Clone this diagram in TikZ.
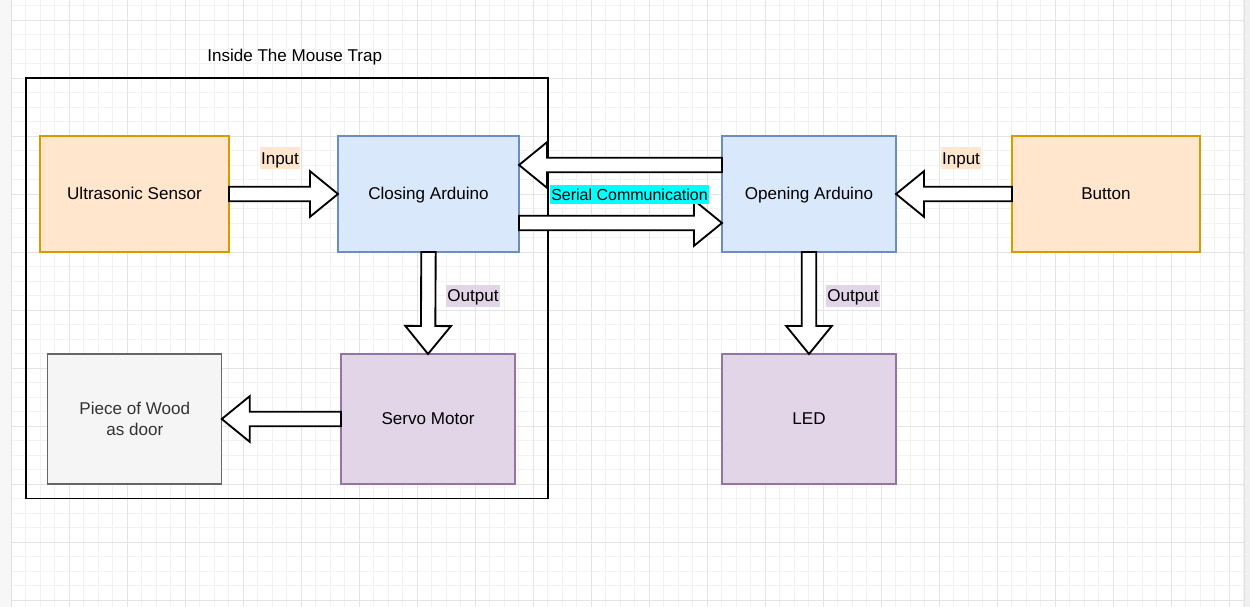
\documentclass[tikz,border=0pt]{standalone}
\usepackage{fontspec}
\setmainfont{Liberation Sans}
\usetikzlibrary{calc}
\definecolor{orfill}{HTML}{FFE6CC}
\definecolor{ordraw}{HTML}{D79B00}
\definecolor{blfill}{HTML}{DAE8FC}
\definecolor{bldraw}{HTML}{6C8EBF}
\definecolor{pufill}{HTML}{E1D5E7}
\definecolor{pudraw}{HTML}{9673A6}
\definecolor{grfill}{HTML}{F5F5F5}
\definecolor{grdraw}{HTML}{666666}
\definecolor{grtext}{HTML}{333333}
\definecolor{cyanlbl}{HTML}{00FFFF}
\definecolor{gridminor}{HTML}{F2F2F2}
\definecolor{gridmajor}{HTML}{E4E4E4}
\definecolor{leftstrip}{HTML}{F7F7F7}
\definecolor{rightstrip}{HTML}{F0F0F0}
\definecolor{stripline}{HTML}{E1E1E1}
\tikzset{
  txt/.style={font=\fontsize{12.8}{16.3}\selectfont},
  oneline/.style={txt, text height=11.6pt, text depth=2.7pt},
  blockbox/.style={draw=#1, line width=0.9pt, inner sep=0pt, outer sep=0pt, align=center},
  lbl/.style={fill=#1, inner xsep=1pt, inner ysep=1.1pt, oneline},
  blockarrow/.style={draw=black, fill=white, line width=1.4pt, line join=miter},
  minorgrid/.style={draw=gridminor, line width=0.75pt},
  majorgrid/.style={draw=gridmajor, line width=0.75pt}
}
\newcommand\blockarr[2]{%
  \coordinate (ba-s) at (#1);
  \coordinate (ba-e) at (#2);
  \coordinate (ba-h) at ($(ba-e)!21pt!(ba-s)$);
  \draw[blockarrow] ($(ba-s)!5.4pt!90:(ba-e)$) -- ($(ba-h)!5.4pt!90:(ba-e)$)
    -- ($(ba-h)!17.1pt!90:(ba-e)$) -- (ba-e) -- ($(ba-h)!17.1pt!-90:(ba-e)$)
    -- ($(ba-h)!5.4pt!-90:(ba-e)$) -- ($(ba-s)!5.4pt!-90:(ba-e)$) -- cycle;
}
\begin{document}
\begin{tikzpicture}[x=0.75pt, y=-0.75pt]
\useasboundingbox (0,0) rectangle (1250,607);
% canvas
\fill[white] (0,0) rectangle (1250,607);
\fill[leftstrip] (0,0) rectangle (11.3,607);
\fill[rightstrip] (1244,0) rectangle (1250,607);
\foreach \k in {0,...,85} {
  \pgfmathsetmacro\gx{11.3+14.5*\k}
  \draw[minorgrid] (\gx,0) -- (\gx,607);
}
\foreach \k in {-1,...,40} {
  \pgfmathsetmacro\gy{20+14.5*\k}
  \draw[minorgrid] (11.3,\gy) -- (1244,\gy);
}
\foreach \k in {0,4,...,84} {
  \pgfmathsetmacro\gx{11.3+14.5*\k}
  \draw[majorgrid] (\gx,0) -- (\gx,607);
}
\foreach \k in {0,4,...,40} {
  \pgfmathsetmacro\gy{20+14.5*\k}
  \draw[majorgrid] (11.3,\gy) -- (1244,\gy);
}
\draw[stripline, line width=0.75pt] (11.3,0) -- (11.3,607);
\draw[stripline, line width=0.75pt] (1244,0) -- (1244,607);

% container
\node[draw=black, line width=1.1pt, minimum width=391.5pt, minimum height=315.4pt, inner sep=0pt] (trap) at (287,288.25) {};
\node[oneline] (title) at (294.7,56) {Inside The Mouse Trap};

% blocks
\node[blockbox=ordraw, oneline, fill=orfill, minimum width=141.75pt, minimum height=87pt] (us) at (134.5,194) {Ultrasonic Sensor};
\node[blockbox=bldraw, oneline, fill=blfill, minimum width=135.75pt, minimum height=87pt] (ca) at (428.5,194) {Closing Arduino};
\node[blockbox=bldraw, oneline, fill=blfill, minimum width=130.5pt, minimum height=87pt] (oa) at (809,194) {Opening Arduino};
\node[blockbox=ordraw, oneline, fill=orfill, minimum width=141pt, minimum height=87pt] (bt) at (1106,194) {Button};
\node[blockbox=grdraw, txt, fill=grfill, text=grtext, minimum width=130.5pt, minimum height=97.5pt] (wood) at (134.75,419) {Piece of Wood\\as door};
\node[blockbox=pudraw, oneline, fill=pufill, minimum width=130.5pt, minimum height=97.5pt] (sm) at (428,419) {Servo Motor};
\node[blockbox=pudraw, oneline, fill=pufill, minimum width=130.5pt, minimum height=97.5pt] (led) at (809,419) {LED};

% arrows
\blockarr{us.east}{ca.west}
\blockarr{$(oa.north west)!0.25!(oa.south west)$}{$(ca.north east)!0.25!(ca.south east)$}
\blockarr{$(ca.north east)!0.75!(ca.south east)$}{$(oa.north west)!0.75!(oa.south west)$}
\blockarr{ca.south}{sm.north}
\blockarr{sm.west}{wood.east}
\blockarr{oa.south}{led.north}
\blockarr{bt.west}{oa.east}

% labels
\node[lbl=orfill] (in1) at (280,158.3) {Input};
\node[fill=cyanlbl, inner xsep=0.8pt, inner ysep=0.4pt, font=\fontsize{12}{14}\selectfont, text height=10.9pt, text depth=2.5pt] (serial) at (629.5,194.5) {Serial Communication};
\node[lbl=pufill] (out1) at (473,296) {Output};
\node[lbl=pufill] (out2) at (853,296) {Output};
\node[lbl=orfill] (in2) at (961,158.3) {Input};
\end{tikzpicture}
\end{document}
